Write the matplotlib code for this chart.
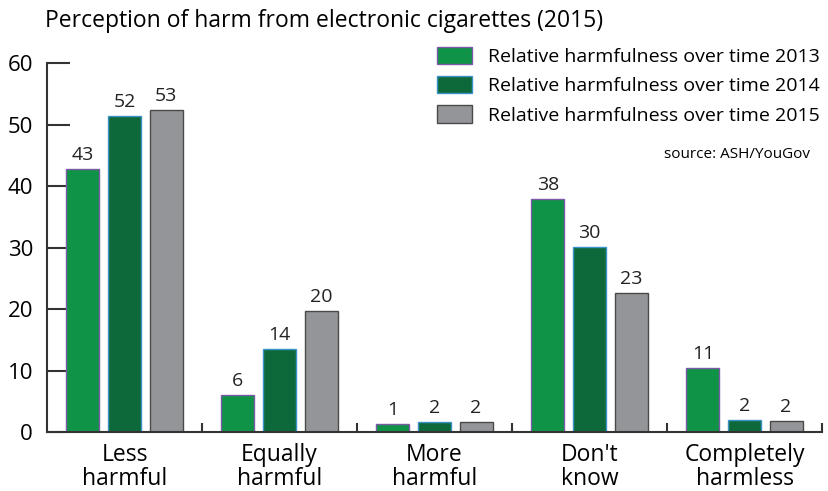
import matplotlib
matplotlib.use("Agg")
import matplotlib.pyplot as plt
import numpy as np

categories = ["Less\nharmful", "Equally\nharmful", "More\nharmful", "Don't\nknow", "Completely\nharmless"]
series_names = [
    "Relative harmfulness over time 2013",
    "Relative harmfulness over time 2014",
    "Relative harmfulness over time 2015",
]
# bar heights as drawn, and the printed labels
values_2013 = [42.8, 6.1, 1.4, 37.9, 10.5]
values_2014 = [51.4, 13.5, 1.7, 30.1, 1.95]
values_2015 = [52.4, 19.7, 1.75, 22.7, 1.9]
labels_2013 = ["43", "6", "1", "38", "11"]
labels_2014 = ["52", "14", "2", "30", "2"]
labels_2015 = ["53", "20", "2", "23", "2"]
y_ticks = [0, 10, 20, 30, 40, 50, 60]

face_colors = ["#0f9447", "#0d6939", "#939598"]
edge_colors = ["#7c5aa6", "#3c93c9", "#4a4a4a"]

plt.rcParams["font.family"] = ["Open Sans", "DejaVu Sans"]

W, H = 829, 491
fig = plt.figure(figsize=(W / 100, H / 100), dpi=100)
ax = fig.add_axes([47 / W, 1 - 432.3 / H, 775 / W, 369 / H])

x = np.arange(len(categories))
width = 0.213
step = 0.268
all_values = [values_2013, values_2014, values_2015]
all_labels = [labels_2013, labels_2014, labels_2015]

for i, (vals, labs) in enumerate(zip(all_values, all_labels)):
    pos = x + (i - 1) * step
    bars = ax.bar(pos, vals, width, color=face_colors[i], edgecolor=edge_colors[i],
                  linewidth=1.0, label=series_names[i], zorder=2)
    for b, lab in zip(bars, labs):
        ax.text(b.get_x() + b.get_width() / 2, b.get_height() + 0.8, lab,
                ha="center", va="bottom", fontsize=14, color="#222222")

ax.set_xlim(-0.5, len(categories) - 0.5)
ax.set_ylim(0, 60)

for s in ["top", "right"]:
    ax.spines[s].set_visible(False)
for s in ["left", "bottom"]:
    ax.spines[s].set_linewidth(1.5)
    ax.spines[s].set_color("#333333")

ax.set_yticks(y_ticks)
ax.set_yticklabels([str(v) for v in y_ticks], fontsize=16)
ax.tick_params(axis="y", direction="in", length=16.5, width=1.5, color="#333333", pad=10)

# boundaries between groups get the x ticks, labels go on minor ticks
ax.set_xticks(np.arange(len(categories)) + 0.5)
ax.set_xticklabels([])
ax.tick_params(axis="x", which="major", direction="in", length=6.5, width=1.5, color="#333333")
ax.set_xticks(x, minor=True)
ax.set_xticklabels(categories, minor=True, fontsize=16.5, linespacing=1.0)
ax.tick_params(axis="x", which="minor", length=0, pad=8)

handles, labels = ax.get_legend_handles_labels()
fig.legend(handles, labels, loc="upper left", bbox_to_anchor=(437 / W, 1 - 47 / H),
           frameon=False, fontsize=14, borderpad=0, borderaxespad=0,
           handlelength=1.8, handleheight=1.0, handletextpad=0.8, labelspacing=0.5)

fig.text(810 / W, 1 - 155 / H, "source: ASH/YouGov", ha="right", va="center", fontsize=11)
fig.text(45 / W, 1 - 27 / H, "Perception of harm from electronic cigarettes (2015)",
         ha="left", va="baseline", fontsize=16.5)

fig.savefig("out.png", dpi=100)
